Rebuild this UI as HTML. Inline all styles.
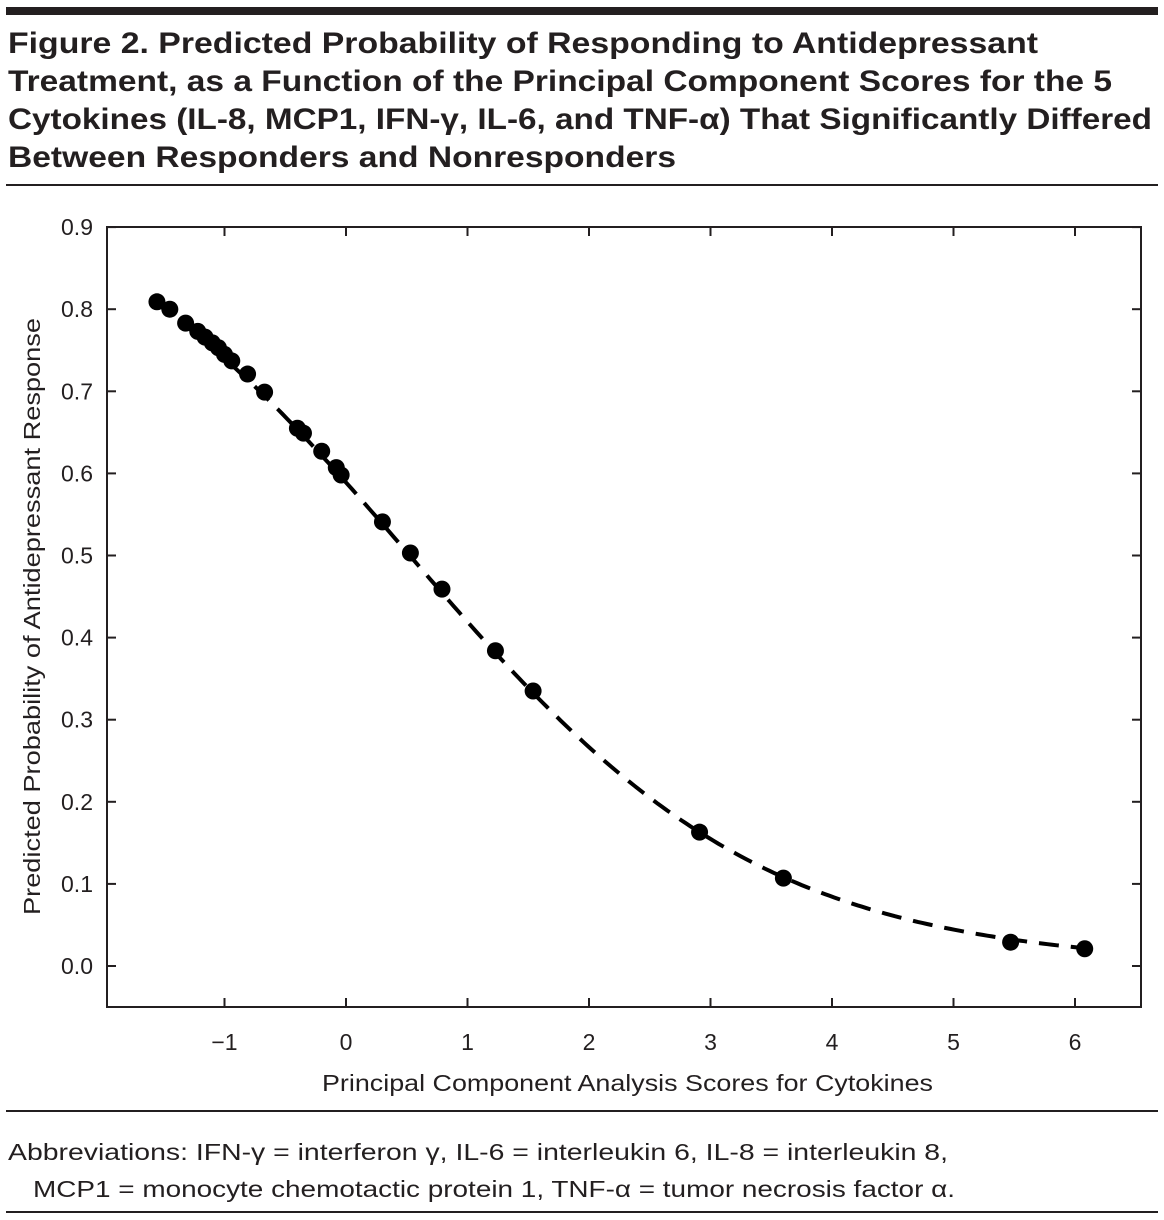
<!DOCTYPE html>
<html><head><meta charset="utf-8">
<style>
html,body{margin:0;padding:0;background:#fff;}
body{width:1164px;height:1220px;position:relative;overflow:hidden;font-family:"Liberation Sans",sans-serif;color:#231f20;}
#topbar{position:absolute;left:6px;top:7px;width:1152px;height:8px;background:#231f20;}
.rule{position:absolute;left:6px;width:1152px;height:2px;background:#231f20;}
svg{position:absolute;left:0;top:0;}
</style></head><body>
<div id="topbar"></div>
<svg id="textlayer" width="1164" height="1220" font-family="Liberation Sans, sans-serif" fill="#231f20">
<g font-weight="bold" font-size="30">
<text x="8" y="53" textLength="1030" lengthAdjust="spacingAndGlyphs">Figure 2. Predicted Probability of Responding to Antidepressant</text>
<text x="8" y="91" textLength="1104" lengthAdjust="spacingAndGlyphs">Treatment, as a Function of the Principal Component Scores for the 5</text>
<text x="8" y="129" textLength="1144" lengthAdjust="spacingAndGlyphs">Cytokines (IL-8, MCP1, IFN-γ, IL-6, and TNF-α) That Significantly Differed</text>
<text x="8" y="167" textLength="668" lengthAdjust="spacingAndGlyphs">Between Responders and Nonresponders</text>
</g>
<g font-size="23">
<text x="8" y="1160" textLength="940" lengthAdjust="spacingAndGlyphs">Abbreviations: IFN-γ = interferon γ, IL-6 = interleukin 6, IL-8 = interleukin 8,</text>
<text x="33" y="1197" textLength="922" lengthAdjust="spacingAndGlyphs">MCP1 = monocyte chemotactic protein 1, TNF-α = tumor necrosis factor α.</text>
</g>
</svg>
<div class="rule" style="top:184px"></div>
<svg id="chart" width="1164" height="1220"></svg>
<div class="rule" style="top:1110px"></div>
<div class="rule" style="top:1211px"></div>
<script>
const xTicks=[-1,0,1,2,3,4,5,6];
const xTickLabels=["\u22121","0","1","2","3","4","5","6"];
const yTicks=[0,0.1,0.2,0.3,0.4,0.5,0.6,0.7,0.8,0.9];
const yTickLabels=["0.0","0.1","0.2","0.3","0.4","0.5","0.6","0.7","0.8","0.9"];
const pointX=[-1.556,-1.45,-1.32,-1.22,-1.16,-1.10,-1.05,-1.0,-0.94,-0.81,-0.67,-0.40,-0.35,-0.20,-0.08,-0.04,0.30,0.53,0.79,1.23,1.54,2.91,3.60,5.47,6.08];
const pointY=[0.809,0.80,0.783,0.773,0.766,0.759,0.753,0.745,0.737,0.721,0.699,0.655,0.649,0.627,0.607,0.598,0.541,0.503,0.459,0.384,0.335,0.163,0.107,0.029,0.021];
const curveIntercept=[0.36];
const curveSlope=[-0.686];
const curveRange=[-1.556,6.08];

const svg=document.getElementById('chart');
const NS='http://www.w3.org/2000/svg';
const L=107,R=1141,T=227,B=1007;
const sx=v=>346+v*121.5;
const sy=v=>966-v*821;
function mk(tag,attrs,parent){const e=document.createElementNS(NS,tag);for(const k in attrs)e.setAttribute(k,attrs[k]);(parent||svg).appendChild(e);return e;}
const frame=mk('rect',{x:L,y:T,width:R-L,height:B-T,fill:'none',stroke:'#231f20','stroke-width':2});


yTicks.forEach((v,i)=>{
  const y=sy(v);
  const t1=mk('line',{x1:L,x2:L+9,y1:y,y2:y,stroke:'#231f20','stroke-width':2});
  
  
  const t2=mk('line',{x1:R-9,x2:R,y1:y,y2:y,stroke:'#231f20','stroke-width':2});
  
  
  const tx=mk('text',{x:93,y:y+8,'text-anchor':'end','font-size':23,fill:'#231f20','font-family':'Liberation Sans, sans-serif'});
  tx.textContent=yTickLabels[i];
  
  
});
xTicks.forEach((v,i)=>{
  const x=sx(v);
  const t1=mk('line',{x1:x,x2:x,y1:B-9,y2:B,stroke:'#231f20','stroke-width':2});
  
  
  const t2=mk('line',{x1:x,x2:x,y1:T,y2:T+9,stroke:'#231f20','stroke-width':2});
  
  
  const tx=mk('text',{x:x,y:1050,'text-anchor':'middle','font-size':23,fill:'#231f20','font-family':'Liberation Sans, sans-serif'});
  tx.textContent=xTickLabels[i];
  
  
});
const xl=mk('text',{x:322,y:1091,'font-size':23,fill:'#231f20','font-family':'Liberation Sans, sans-serif',textLength:611,lengthAdjust:'spacingAndGlyphs'});
xl.textContent='Principal Component Analysis Scores for Cytokines';


const yl=mk('text',{x:0,y:0,'font-size':23,fill:'#231f20','font-family':'Liberation Sans, sans-serif',transform:'translate(40,915) rotate(-90)',textLength:597,lengthAdjust:'spacingAndGlyphs'});
yl.textContent='Predicted Probability of Antidepressant Response';


let d='';
const n=200;
for(let i=0;i<=n;i++){
  const xv=curveRange[0]+(curveRange[1]-curveRange[0])*i/n;
  const p=1/(1+Math.exp(-(curveIntercept[0]+curveSlope[0]*xv)));
  d+=(i?'L':'M')+sx(xv).toFixed(1)+','+sy(p).toFixed(1);
}
const curve=mk('path',{d:d,fill:'none',stroke:'#000','stroke-width':4,'stroke-dasharray':'20 12'});


pointX.forEach((xv,i)=>{
  const c=mk('circle',{cx:sx(xv),cy:sy(pointY[i]),r:8.5,fill:'#000'});
  
  
});
</script>
</body></html>
